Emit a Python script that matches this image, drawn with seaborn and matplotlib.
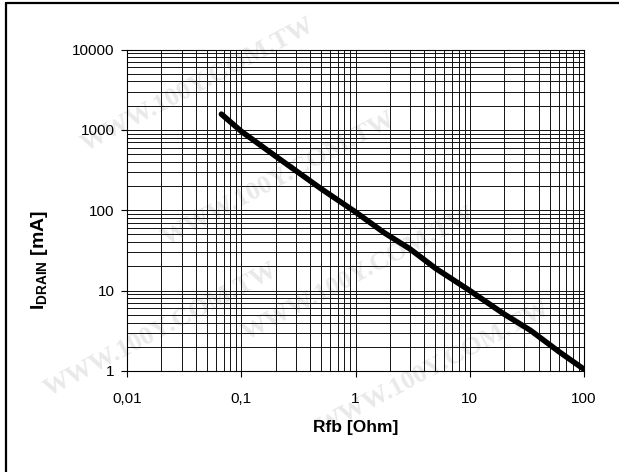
import matplotlib
matplotlib.use("Agg")
import matplotlib.pyplot as plt
import pandas as pd
import seaborn as sns
from matplotlib.lines import Line2D
from matplotlib.ticker import FuncFormatter, LogLocator, NullFormatter

# values
rfb_ohm = [0.067, 0.1, 0.2, 0.5, 1.0, 1.8, 3.0, 5.0, 10.0, 20.0, 34.0, 60.0, 100.0]
idrain_ma = [1570, 960, 470, 185, 95, 52, 33, 19, 10, 5.1, 3.2, 1.75, 1.05]

x_ticks = [0.01, 0.1, 1, 10, 100]
y_ticks = [1, 10, 100, 1000, 10000]
watermark = "WWW.100Y.COM.TW"

sns.set_theme(style="white")
plt.rcParams.update(
        {
            "font.family": ["Liberation Sans", "DejaVu Sans"],
            "mathtext.fontset": "custom",
            "mathtext.rm": "Liberation Sans",
            "mathtext.bf": "Liberation Sans:bold",
            }
        )

df = pd.DataFrame({"Rfb": rfb_ohm, "Idrain": idrain_ma})

fig = plt.figure(figsize=(6.19, 4.72), dpi=100)
ax = fig.add_axes([0.2052, 0.2140, 0.7383, 0.6811])
ax.set_facecolor("none")
ax.set_zorder(2)

# faint watermark, kept behind the axes
for (wx, wy) in [(0.32, 0.82), (0.45, 0.62), (0.58, 0.42), (0.70, 0.22), (0.26, 0.30)]:
    fig.text(wx, wy, watermark, fontsize=19, fontweight="bold",
             family=["Liberation Serif", "DejaVu Serif"], color="#e9e9e9",
             rotation=28, ha="center", va="center", zorder=0)

sns.lineplot(data=df, x="Rfb", y="Idrain", ax=ax, color="black",
             linewidth=4.0, solid_capstyle="round", zorder=5)

ax.set_xscale("log")
ax.set_yscale("log")
ax.set_xlim(0.01, 100)
ax.set_ylim(1, 10000)
ax.set_xticks(x_ticks)
ax.set_yticks(y_ticks)
ax.xaxis.set_minor_locator(LogLocator(base=10, subs=range(2, 10)))
ax.yaxis.set_minor_locator(LogLocator(base=10, subs=range(2, 10)))
ax.xaxis.set_minor_formatter(NullFormatter())
ax.yaxis.set_minor_formatter(NullFormatter())
ax.xaxis.set_major_formatter(FuncFormatter(lambda v, _: f"{v:g}".replace(".", ",")))
ax.yaxis.set_major_formatter(FuncFormatter(lambda v, _: f"{int(v)}"))

ax.grid(True, which="both", color="#111111", linewidth=0.7)
ax.tick_params(which="major", direction="out", length=4, width=0.8,
               color="black", labelsize=11, labelcolor="black",
               bottom=True, left=True)
ax.tick_params(axis="x", which="major", pad=11)
ax.tick_params(axis="y", which="major", pad=5)
ax.tick_params(which="minor", length=0)
for side in ax.spines:
    ax.spines[side].set_color("black")
    ax.spines[side].set_linewidth(0.8)

ax.set_xlabel("Rfb [Ohm]", fontsize=12.5, fontweight="bold", color="black")
ax.xaxis.set_label_coords(0.5, -0.152)
ax.set_ylabel(r"$\mathbf{I}_{\mathbf{DRAIN}}$ [mA]", fontsize=14,
              fontweight="bold", color="black")
ax.yaxis.set_label_coords(-0.168, 0.345)

# frame lines of the original page crop
fig.add_artist(Line2D([0.009, 0.009], [0, 0.993], color="black", linewidth=1.6))
fig.add_artist(Line2D([0.009, 1.0], [0.993, 0.993], color="black", linewidth=1.6))

plt.savefig("out.png", dpi=100)
plt.close()
